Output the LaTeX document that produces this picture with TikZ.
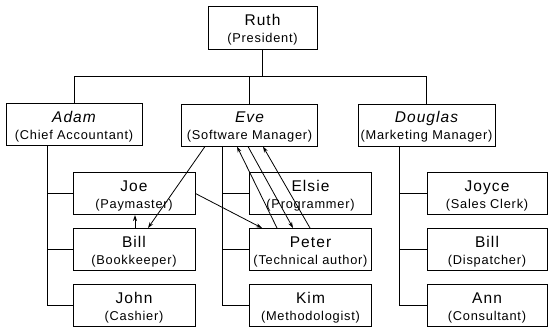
\documentclass[tikz,border=0pt]{standalone}
\usepackage{fontspec}
\setmainfont{Liberation Sans}[LetterSpace=7]
\newfontfamily\subfnt{Liberation Sans}[LetterSpace=6]
\usetikzlibrary{arrows.meta}
\newcommand\subt[1]{\\{\subfnt\fontsize{12.8}{17}\selectfont #1}}
\begin{document}
\begin{tikzpicture}[x=1pt,y=-1pt,
  box/.style={draw, line width=1pt, inner sep=0pt, minimum height=42pt,
    align=center, font=\fontsize{15.5}{17}\selectfont, text height=29pt, text depth=0pt},
  topbox/.style={box, minimum width=136pt},
  kidbox/.style={box, minimum width=122pt},
  link/.style={line width=1pt},
  arr/.style={line width=0.8pt, -{Stealth[length=6pt,width=4pt]}}]
\useasboundingbox (0,0) rectangle (548,330);

% top
\node[box, minimum width=109pt, minimum height=43pt] (ruth) at (262.5,27.5) {Ruth\subt{(President)}};
\node[topbox] (adam) at (74,124.5) {\itshape Adam\subt{(Chief Accountant)}};
\node[topbox] (eve) at (249.5,125) {\itshape Eve\subt{(Software Manager)}};
\node[topbox, minimum width=137pt] (douglas) at (426.5,125) {\itshape Douglas\subt{(Marketing Manager)}};

% children of Adam
\node[kidbox] (joe) at (134,193.5) {Joe\subt{(Paymaster)}};
\node[kidbox] (billb) at (134,249.5) {Bill\subt{(Bookkeeper)}};
\node[kidbox] (john) at (134,305.5) {John\subt{(Cashier)}};
% children of Eve
\node[kidbox] (elsie) at (310.5,193.5) {Elsie\subt{(Programmer)}};
\node[kidbox] (peter) at (310.5,249.5) {Peter\subt{(Technical author)}};
\node[kidbox] (kim) at (310.5,305.5) {Kim\subt{(Methodologist)}};
% children of Douglas
\node[kidbox, minimum width=120pt] (joyce) at (487,193.5) {Joyce\subt{(Sales Clerk)}};
\node[kidbox, minimum width=120pt] (billd) at (487,249.5) {Bill\subt{(Dispatcher)}};
\node[kidbox, minimum width=120pt] (ann) at (487,305.5) {Ann\subt{(Consultant)}};

% tree from Ruth
\coordinate (bus) at (262.5,76);
\draw[link] (ruth.south) -- (bus);
\draw[link] (bus) -| (adam.north);
\draw[link] (bus) -| (eve.north);
\draw[link] (bus) -| (douglas.north);

% spines
\foreach \p/\a/\b/\c in {adam/joe/billb/john, eve/elsie/peter/kim, douglas/joyce/billd/ann}{
  \draw[link] ([xshift=-27]\p.south) |- (\c.west);
  \draw[link] ([xshift=-27]\p.south) |- (\a.west);
  \draw[link] ([xshift=-27]\p.south) |- (\b.west);
}

% arrows
\draw[arr] ([xshift=-44.5]eve.south) -- ([xshift=14]billb.north);
\draw[arr] ([xshift=1]billb.north) -- ([xshift=1]joe.south);
\draw[arr] (joe.east) -- ([xshift=-48.5]peter.north);
\draw[arr] ([xshift=-33.5]peter.north) -- ([xshift=-12.5]eve.south);
\draw[arr] ([xshift=-1.5]eve.south) -- ([xshift=-17.5]peter.north);
\draw[arr] ([xshift=-0.5]peter.north) -- ([xshift=13.5]eve.south);
\end{tikzpicture}
\end{document}
